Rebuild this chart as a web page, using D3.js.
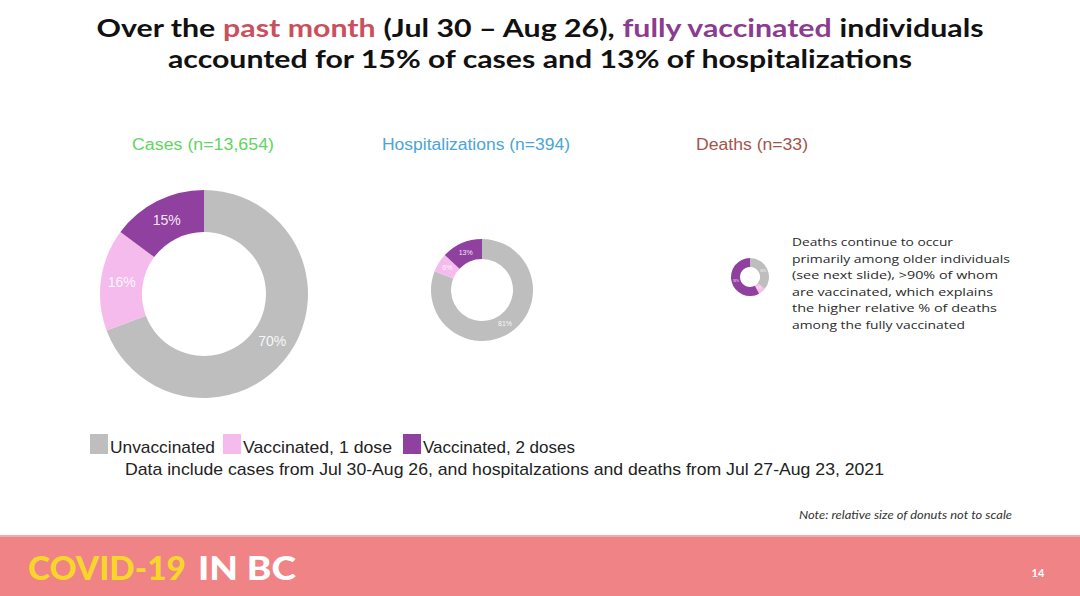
<!DOCTYPE html>
<html><head><meta charset="utf-8">
<script src="https://cdn.jsdelivr.net/npm/d3@7"></script>
<style>html,body{margin:0;padding:0;background:#fff;}svg{display:block;}</style>
</head><body>
<script>
const categories = ["Unvaccinated", "Vaccinated, 1 dose", "Vaccinated, 2 doses"];
const casesValues = [70, 16, 15];
const hospValues = [81, 6, 13];
const deathValues = [36, 6, 58];
const panelTitles = ["Cases (n=13,654)", "Hospitalizations (n=394)", "Deaths (n=33)"];
const titleLine1 = [["Over the", "#111"], ["past month", "#c9505c"], ["(Jul 30 \u2013 Aug 26),", "#111"], ["fully vaccinated", "#8b3c8f"], ["individuals", "#111"]];
const titleLine2 = "accounted for 15% of cases and 13% of hospitalizations";
const noteLines = ["Deaths continue to occur", "primarily among older individuals", "(see next slide), >90% of whom", "are vaccinated, which explains", "the higher relative % of deaths", "among the fully vaccinated"];
const sourceText = "Data include cases from Jul 30-Aug 26, and hospitalzations and deaths from Jul 27-Aug 23, 2021";

const W = 1080, H = 596;
const svg = d3.select("body").append("svg").attr("width", W).attr("height", H);
const color = d3.scaleOrdinal().domain(categories).range(["#bebebe", "#f5bbec", "#90409f"]);
const TITLE_FONT = "Lato, 'Open Sans', sans-serif";
const ARIAL = "'Liberation Sans', Arial, sans-serif";
const TITLE_FS = 25.5;

// Title line 1: separate text pieces laid out side by side with word gaps
(function () {
  const pieces = titleLine1.map(d => svg.append("text").attr("y", 37)
    .attr("font-family", TITLE_FONT).attr("font-weight", 700).attr("font-size", TITLE_FS)
    .attr("fill", d[1]).text(d[0]));
  const w = pieces.map(p => p.node().getComputedTextLength());
  const gap0 = 0.26 * TITLE_FS;
  const natural = d3.sum(w) + gap0 * (pieces.length - 1);
  const k = 887 / natural;
  let x = 540 - 887 / 2;
  pieces.forEach((p, i) => {
    p.attr("x", x).attr("textLength", w[i] * k).attr("lengthAdjust", "spacingAndGlyphs");
    x += (w[i] + gap0) * k;
  });
})();
svg.append("text").attr("x", 540).attr("y", 68).attr("text-anchor", "middle")
  .attr("font-family", TITLE_FONT).attr("font-weight", 700).attr("font-size", TITLE_FS)
  .attr("textLength", 744).attr("lengthAdjust", "spacingAndGlyphs")
  .attr("fill", "#111").text(titleLine2);

// Panels
const panels = [
  {values: casesValues, cx: 204, cy: 294, r: 104, ir: 62, fs: 14, titleX: 203, titleColor: "#62d45f", titleW: 142},
  {values: hospValues, cx: 482, cy: 290, r: 51, ir: 31, fs: 7, titleX: 476, titleColor: "#4aa6d6", titleW: 188},
  {values: deathValues, cx: 750, cy: 277, r: 19, ir: 10, fs: 3, titleX: 752, titleColor: "#a4534b", titleW: 112}
];
const pie = d3.pie().sort(null);
panels.forEach((p, i) => {
  svg.append("text").attr("x", p.titleX).attr("y", 150).attr("text-anchor", "middle")
    .attr("font-family", ARIAL).attr("font-size", 16)
    .attr("textLength", p.titleW).attr("lengthAdjust", "spacingAndGlyphs")
    .attr("fill", p.titleColor).text(panelTitles[i]);
  const arc = d3.arc().innerRadius(p.ir).outerRadius(p.r);
  const g = svg.append("g").attr("transform", `translate(${p.cx},${p.cy})`);
  const arcs = pie(p.values);
  g.selectAll("path").data(arcs).join("path")
    .attr("d", arc).attr("fill", (d, j) => color(categories[j]));
  g.selectAll("text").data(arcs).join("text")
    .attr("transform", d => `translate(${arc.centroid(d)})`)
    .attr("text-anchor", "middle").attr("dy", "0.35em")
    .attr("font-family", ARIAL).attr("font-size", p.fs)
    .attr("fill", "#fff").attr("fill-opacity", 0.9).text(d => d.data + "%");
});

// Side note
const noteW = [161, 218, 206, 201, 205, 173];
const noteG = svg.append("g");
noteLines.forEach((d, i) => noteG.append("text").attr("x", 792).attr("y", 246 + i * 16.6)
  .attr("font-family", "'Open Sans', sans-serif").attr("font-size", 11.5).attr("fill", "#2a2a2a")
  .attr("textLength", noteW[i]).attr("lengthAdjust", "spacingAndGlyphs").text(d));

// Legend
const legX = [90, 223, 403];
const legW = [105, 149, 152];
const lg = svg.append("g");
categories.forEach((c, i) => {
  lg.append("rect").attr("x", legX[i]).attr("y", 434).attr("width", 18).attr("height", 20).attr("fill", color(c));
  lg.append("text").attr("x", legX[i] + 20).attr("y", 453).attr("font-family", ARIAL)
    .attr("font-size", 17).attr("textLength", legW[i]).attr("lengthAdjust", "spacingAndGlyphs")
    .attr("fill", "#222").text(c);
});
svg.append("text").attr("x", 125).attr("y", 475).attr("font-family", ARIAL)
  .attr("font-size", 17).attr("textLength", 759).attr("lengthAdjust", "spacingAndGlyphs")
  .attr("fill", "#222").text(sourceText);

// Note on scale
svg.append("text").attr("x", 799).attr("y", 519)
  .attr("font-family", "Lato, 'Open Sans', sans-serif").attr("font-style", "italic").attr("font-size", 11.5)
  .attr("textLength", 213).attr("lengthAdjust", "spacingAndGlyphs")
  .attr("fill", "#333").text("Note: relative size of donuts not to scale");

// Footer band
svg.append("rect").attr("x", 0).attr("y", 535).attr("width", W).attr("height", H - 535).attr("fill", "#f08386");
svg.append("rect").attr("x", 0).attr("y", 535).attr("width", W).attr("height", 2).attr("fill", "#f5a9ab");
svg.append("text").attr("x", 28).attr("y", 580).attr("font-family", TITLE_FONT)
  .attr("font-weight", 900).attr("font-size", 33).attr("textLength", 158).attr("lengthAdjust", "spacingAndGlyphs")
  .attr("fill", "#f7d62a").text("COVID-19");
svg.append("text").attr("x", 198).attr("y", 580).attr("font-family", TITLE_FONT)
  .attr("font-weight", 900).attr("font-size", 33).attr("textLength", 98).attr("lengthAdjust", "spacingAndGlyphs")
  .attr("fill", "#ffffff").text("IN BC");
svg.append("text").attr("x", 1038).attr("y", 577).attr("text-anchor", "middle")
  .attr("font-family", TITLE_FONT).attr("font-weight", 700).attr("font-size", 11)
  .attr("fill", "#fff").text("14");
</script>
</body></html>
